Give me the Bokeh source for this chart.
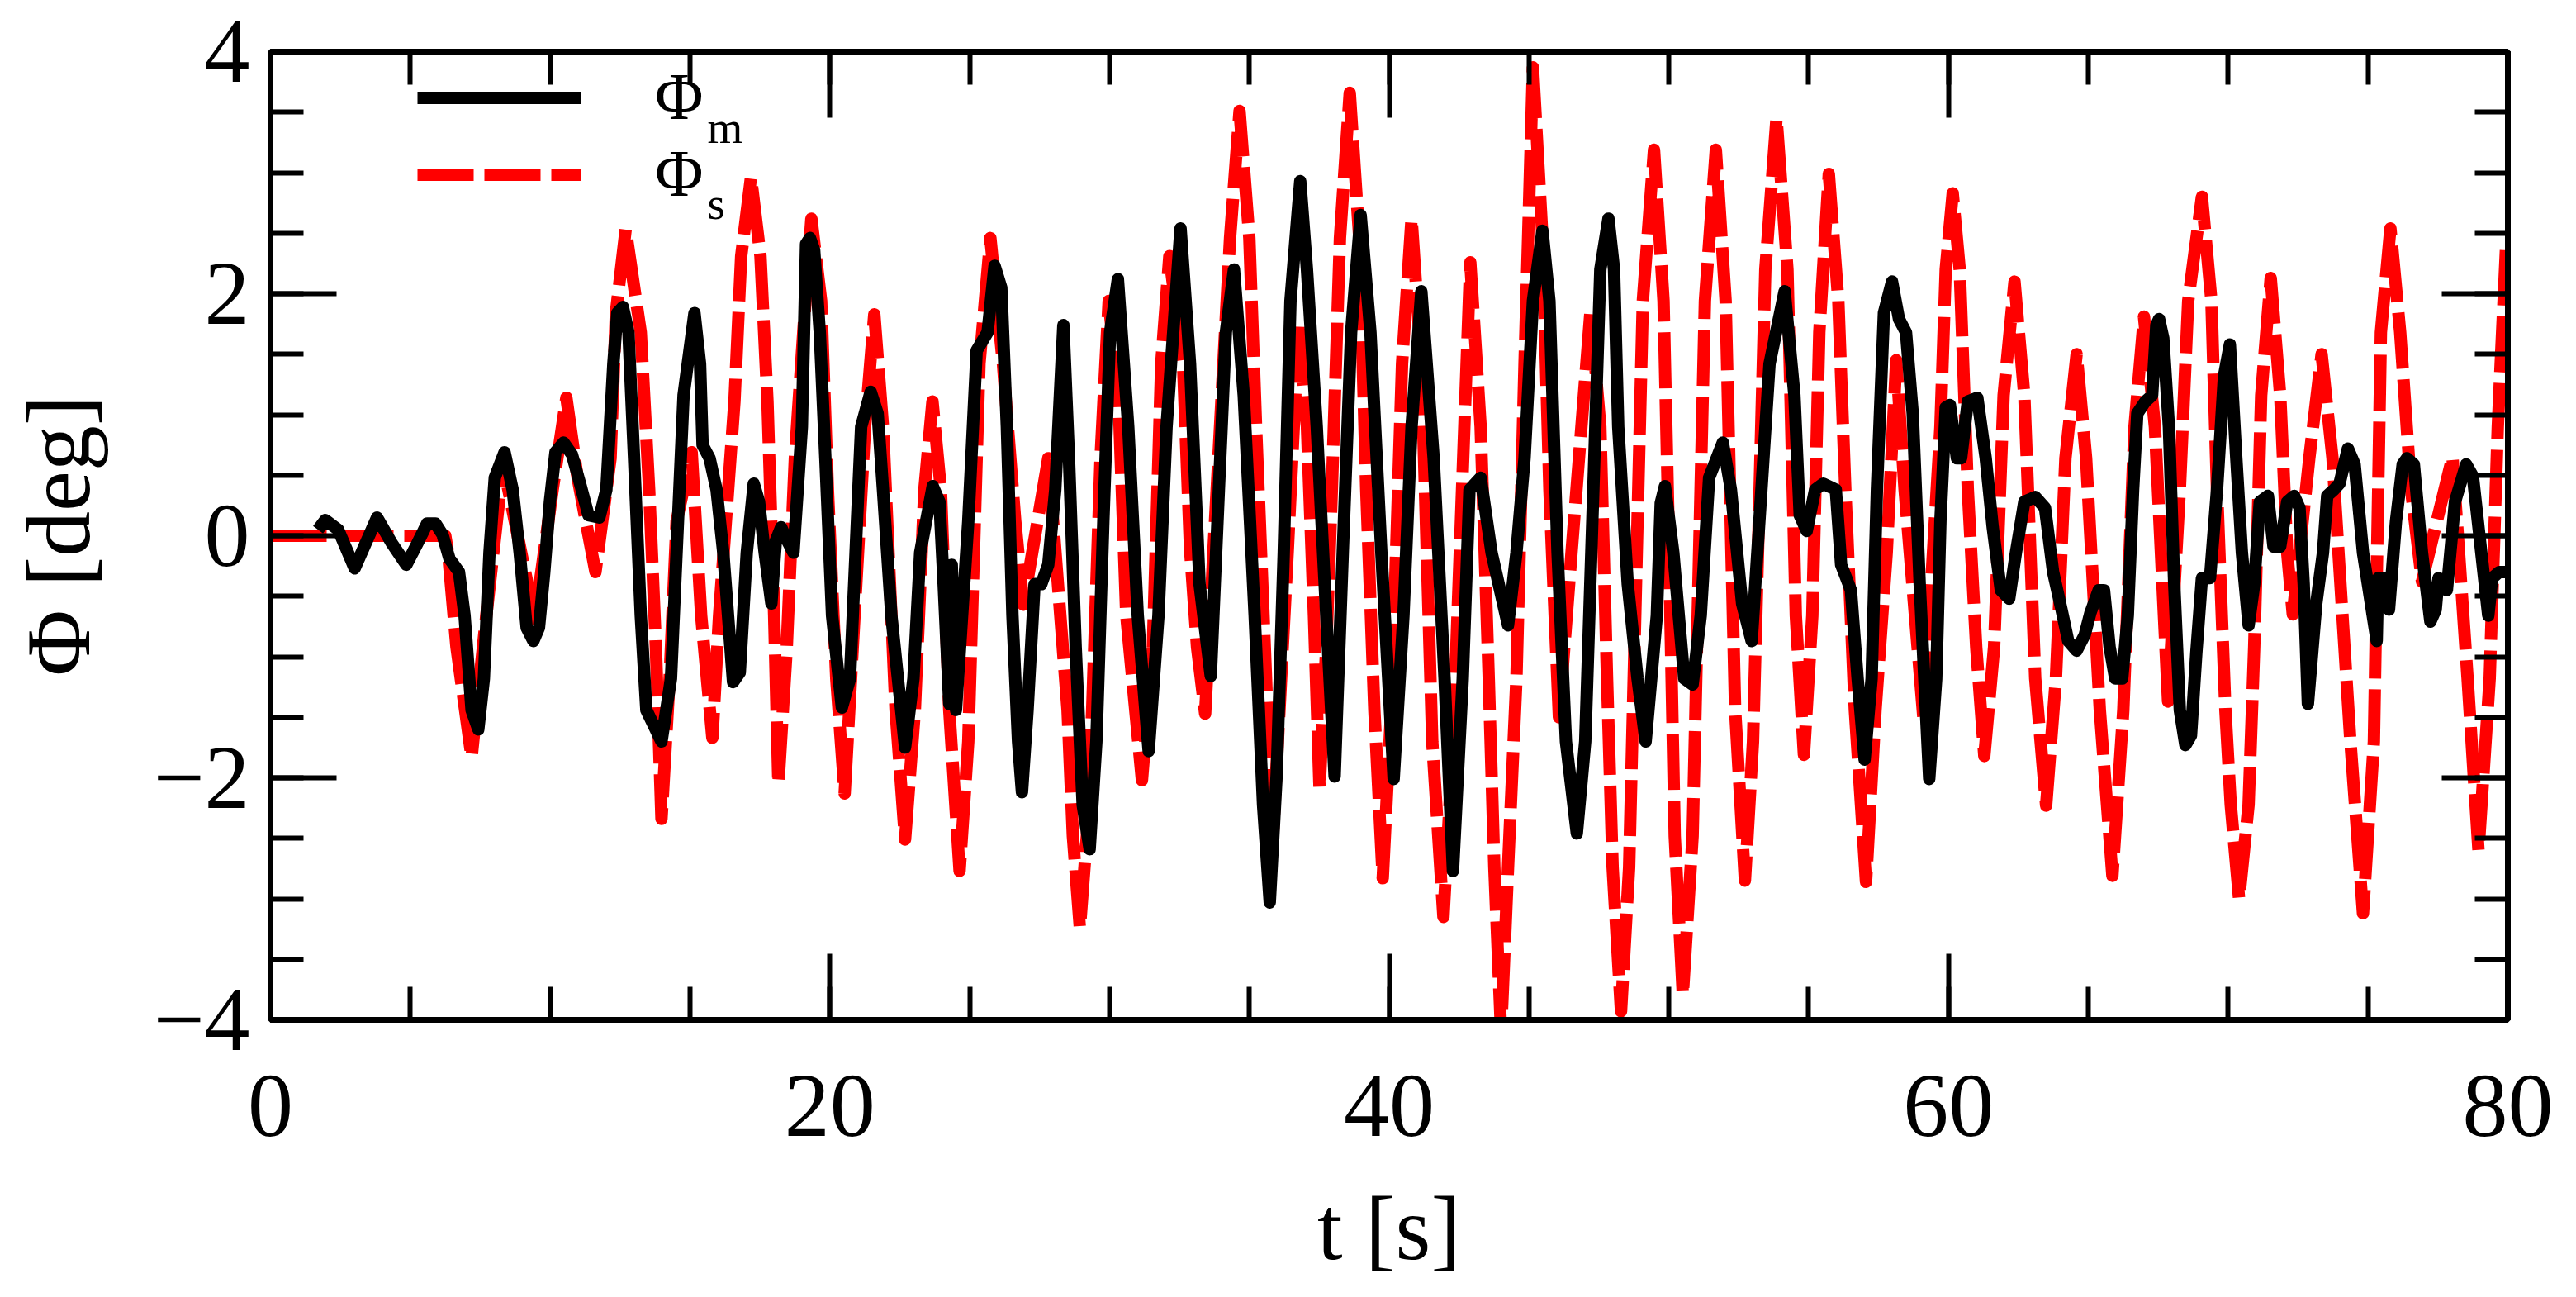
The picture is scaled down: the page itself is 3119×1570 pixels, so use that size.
from bokeh.plotting import figure
from bokeh.models import (Range1d, LinearAxis, SingleIntervalTicker, Legend, LegendItem, Label,
                          CustomLabelingPolicy)
from bokeh.embed import file_html
from bokeh.resources import INLINE

# Phi_m (measured): time [s], roll angle [deg]
t_m = [1.70, 1.96, 2.42, 3.01, 3.81, 4.33, 4.86, 5.26, 5.60, 5.90, 6.15, 6.40, 6.74, 6.94, 7.19,
       7.43, 7.63, 7.83, 8.02, 8.37, 8.66, 8.91, 9.16, 9.40, 9.60, 9.79, 9.99, 10.19, 10.48,
       10.78, 11.07, 11.37, 11.76, 12.01, 12.26, 12.40, 12.60, 12.80, 13.00, 13.24, 13.44, 13.98,
       14.32, 14.52, 14.77, 15.16, 15.36, 15.45, 15.70, 15.95, 16.19, 16.54, 16.78, 17.03, 17.28,
       17.47, 17.67, 17.91, 18.07, 18.26, 18.41, 18.70, 19.00, 19.15, 19.29, 19.44, 19.64, 19.84,
       20.08, 20.43, 20.72, 20.92, 21.12, 21.46, 21.71, 21.90, 22.20, 22.69, 22.99, 23.23, 23.68,
       23.92, 24.07, 24.27, 24.36, 24.51, 24.95, 25.25, 25.64, 25.89, 26.13, 26.33, 26.53, 26.73,
       26.87, 27.07, 27.32, 27.56, 27.81, 28.06, 28.35, 28.55, 28.79, 29.04, 29.29, 29.53, 29.78,
       30.02, 30.30, 30.67, 31.01, 31.40, 31.75, 32.04, 32.54, 32.88, 33.22, 33.62, 33.91, 34.16,
       34.45, 34.80, 35.19, 35.49, 35.73, 35.98, 36.23, 36.47, 36.82, 37.06, 37.41, 37.75, 38.05,
       38.34, 38.64, 38.98, 39.33, 39.72, 40.16, 40.51, 40.80, 41.15, 41.59, 41.98, 42.28, 42.63,
       42.87, 43.27, 43.66, 44.25, 44.55, 44.84, 45.14, 45.48, 45.73, 46.02, 46.32, 46.71, 47.01,
       47.30, 47.55, 47.84, 48.04, 48.19, 48.53, 48.88, 49.17, 49.57, 49.71, 49.86, 50.16, 50.55,
       50.85, 51.14, 51.44, 51.93, 52.22, 52.62, 52.96, 53.31, 53.60, 54.14, 54.49, 54.68, 54.93,
       55.23, 55.52, 55.97, 56.16, 56.51, 56.75, 57.00, 57.25, 57.44, 57.69, 57.98, 58.23, 58.48,
       58.72, 58.97, 59.31, 59.56, 59.71, 59.90, 60.05, 60.30, 60.45, 60.69, 61.03, 61.33, 61.58,
       61.87, 62.17, 62.41, 62.71, 63.10, 63.45, 63.74, 64.04, 64.28, 64.58, 64.87, 65.07, 65.37,
       65.56, 65.76, 65.96, 66.21, 66.41, 66.60, 66.75, 67.04, 67.28, 67.43, 67.53, 67.68, 67.88,
       68.07, 68.27, 68.47, 68.67, 68.86, 69.06, 69.35, 69.60, 69.85, 70.06, 70.29, 70.49, 70.73,
       70.93, 71.13, 71.42, 71.62, 71.86, 72.11, 72.36, 72.55, 72.70, 72.85, 73.15, 73.39, 73.54,
       73.78, 73.98, 74.28, 74.52, 74.82, 75.31, 75.36, 75.55, 75.75, 76.00, 76.24, 76.39, 76.64,
       76.93, 77.23, 77.42, 77.52, 77.82, 78.11, 78.51, 78.75, 79.05, 79.30, 79.44, 79.69, 79.90]
phi_m = [0.05, 0.13, 0.05, -0.27, 0.15, -0.06, -0.24, -0.06, 0.10, 0.10, 0.01, -0.19, -0.30, -0.66, -1.44,
         -1.60, -1.18, -0.14, 0.48, 0.69, 0.38, -0.14, -0.76, -0.87, -0.76, -0.30, 0.28, 0.69, 0.77,
         0.67, 0.43, 0.17, 0.15, 0.38, 1.42, 1.84, 1.89, 1.68, 0.64, -0.66, -1.44, -1.70,
         -1.18, -0.14, 1.16, 1.84, 1.42, 0.75, 0.64, 0.38, -0.14, -1.21, -1.13, -0.14, 0.43,
         0.28, -0.14, -0.56, -0.04, 0.07, -0.01, -0.14, 0.90, 2.41, 2.46, 2.36, 1.68, 0.64,
         -0.66, -1.42, -1.18, -0.14, 0.90, 1.19, 1.01, 0.38, -0.66, -1.75, -1.18, -0.14, 0.41,
         0.28, -0.40, -1.39, -0.24, -1.44, 0.12, 1.53, 1.68, 2.23, 2.05, 0.90, -0.66, -1.70,
         -2.12, -1.44, -0.40, -0.40, -0.24, 0.38, 1.74, 0.64, -0.92, -2.22, -2.59, -1.70, 0.12,
         1.68, 2.12, 0.90, -0.66, -1.78, -0.66, 0.90, 2.54, 1.42, -0.40, -1.16, 0.38, 1.68,
         2.20, 1.16, -0.66, -2.22, -3.03, -1.96, -0.14, 1.94, 2.93, 2.20, 0.90, -0.66, -1.99,
         -0.14, 1.68, 2.65, 1.68, -0.14, -2.01, -0.66, 0.90, 2.02, 0.64, -1.18, -2.77, -1.18,
         0.38, 0.48, -0.14, -0.74, -0.14, 0.64, 1.94, 2.52, 1.94, -0.14, -1.70, -2.46, -1.70,
         0.38, 2.20, 2.62, 2.20, 0.90, -0.40, -1.18, -1.70, -0.66, 0.27, 0.41, -0.14, -1.18,
         -1.23, -0.66, 0.48, 0.77, 0.38, -0.56, -0.87, 0.38, 1.42, 2.02, 1.16, 0.17, 0.04,
         0.38, 0.43, 0.38, -0.24, -0.45, -1.18, -1.85, -1.18, 0.38, 1.84, 2.10, 1.79, 1.68,
         1.01, -0.40, -2.01, -1.18, 0.12, 1.06, 1.08, 0.64, 0.64, 1.11, 1.14, 0.64, 0.07,
         -0.45, -0.52, -0.14, 0.28, 0.32, 0.23, -0.30, -0.61, -0.87, -0.95, -0.82, -0.64, -0.45,
         -0.45, -0.92, -1.18, -1.18, -0.66, 0.38, 1.01, 1.11, 1.16, 1.74, 1.79, 1.63, 0.90,
         -0.40, -1.44, -1.73, -1.65, -0.97, -0.35, -0.35, 0.38, 1.32, 1.58, 0.64, -0.14, -0.74,
         -0.40, 0.28, 0.33, -0.09, -0.09, 0.28, 0.33, 0.23, -0.40, -1.39, -0.56, -0.14, 0.33,
         0.38, 0.43, 0.72, 0.59, -0.14, -0.87, -0.35, -0.35, -0.61, 0.12, 0.59, 0.64, 0.59,
         -0.14, -0.71, -0.61, -0.35, -0.45, 0.28, 0.59, 0.49, -0.14, -0.66, -0.35, -0.30, -0.30]

# Phi_s (simulated)
t_s = [0.00, 6.25, 6.35, 6.65, 7.19, 7.65, 8.32, 9.45, 10.09, 10.58, 10.98, 11.62, 12.16, 12.35,
       12.70, 13.24, 13.54, 13.78, 13.98, 14.27, 14.52, 15.06, 15.40, 15.80, 16.04, 16.59, 16.83,
       17.18, 17.52, 17.77, 18.01, 18.16, 18.46, 18.75, 19.05, 19.34, 19.69, 19.93, 20.23, 20.53,
       20.82, 21.26, 21.59, 21.90, 22.35, 22.69, 23.04, 23.38, 23.67, 23.97, 24.27, 24.64, 24.95,
       25.35, 25.74, 26.19, 26.63, 26.92, 27.81, 28.50, 28.69, 28.94, 29.19, 29.38, 29.68, 29.97,
       30.32, 30.60, 31.16, 31.55, 31.85, 32.14, 32.63, 32.88, 33.13, 33.42, 33.72, 34.31, 34.65,
       35.00, 35.24, 35.83, 36.37, 36.77, 37.06, 37.31, 37.51, 37.75, 37.95, 38.24, 38.59, 38.93,
       39.18, 39.47, 39.77, 40.07, 40.46, 40.80, 41.15, 41.54, 41.94, 42.28, 42.90, 43.27, 43.56,
       43.76, 44.00, 44.25, 44.55, 44.84, 45.14, 45.48, 45.73, 46.07, 46.52, 47.20, 47.55, 47.79,
       47.99, 48.29, 48.58, 49.07, 49.47, 49.81, 50.01, 50.21, 50.50, 50.85, 51.29, 51.68, 52.03,
       52.37, 52.72, 53.01, 53.45, 53.85, 54.24, 54.54, 54.83, 55.13, 55.38, 55.72, 56.06, 56.31,
       56.65, 57.05, 57.39, 57.79, 58.13, 58.43, 59.10, 59.71, 59.90, 60.15, 60.40, 60.69, 60.99,
       61.28, 61.63, 61.97, 62.36, 62.71, 63.10, 63.49, 63.84, 64.18, 64.58, 64.92, 65.41, 65.86,
       66.25, 66.65, 66.99, 67.38, 67.85, 68.27, 68.57, 69.06, 69.40, 69.60, 69.90, 70.09, 70.39,
       70.73, 70.93, 71.18, 71.52, 71.86, 72.11, 72.31, 72.90, 73.34, 73.73, 74.37, 74.82, 75.21,
       75.46, 75.80, 76.15, 76.54, 76.93, 78.02, 78.56, 78.95, 79.35, 79.64, 79.93]
phi_s = [0.00, 0.00, -0.14, -0.92, -1.83, -0.80, 0.59, -0.69, 0.38, 1.14, 0.48, -0.30, 0.64, 1.84,
         2.53, 1.68, 0.38, -0.92, -2.34, -1.18, 0.12, 0.69, -0.66, -1.67, -0.66, 1.11, 2.31,
         2.96, 2.31, 1.11, -0.66, -2.05, -0.92, 0.64, 1.68, 2.62, 1.94, 0.38, -1.18, -2.13,
         -0.92, 0.90, 1.83, 0.90, -1.44, -2.51, -1.44, 0.38, 1.11, 0.38, -1.44, -2.77, -1.70,
         1.42, 2.46, 1.42, 0.12, -0.57, 0.64, -1.44, -2.48, -3.24, -2.48, -1.44, 0.64, 1.94,
         1.16, -0.66, -2.02, -0.92, 1.42, 2.31, 1.42, -0.11, -0.92, -1.47, -0.11, 2.46, 3.51,
         2.46, 0.90, -2.54, -0.14, 1.76, 0.90, -0.66, -2.09, -0.92, 0.38, 2.46, 3.66, 2.46,
         0.38, -1.44, -2.83, -1.44, 1.42, 2.62, 1.42, -1.70, -3.15, -1.70, 2.26, 0.90, -1.18,
         -2.74, -4.10, -2.74, -1.18, 1.42, 3.87, 2.46, 0.38, -1.50, -0.14, 1.86, 0.90, -1.18,
         -2.74, -3.93, -2.74, 1.94, 3.19, 1.94, -0.14, -2.48, -3.79, -2.48, 1.94, 3.19, 1.94,
         -1.44, -2.85, -1.70, 2.20, 3.45, 2.20, -0.66, -1.81, -0.66, 1.68, 2.99, 1.94, 0.38,
         -1.44, -2.86, -1.44, -0.14, 1.45, 0.38, -1.50, 0.90, 2.20, 2.83, 2.20, 0.38, -0.92,
         -1.82, -0.92, 1.16, 2.10, 1.16, -1.18, -2.23, -1.18, 0.64, 1.50, 0.64, -1.44, -2.81,
         -1.44, 0.90, 1.81, 0.90, -1.37, 0.38, 1.94, 2.80, 1.94, 0.38, -1.44, -2.22, -3.00,
         -2.22, -0.92, 1.16, 2.13, 1.16, -0.14, -0.65, 0.64, 1.50, 0.64, -1.70, -3.12, -1.70,
         1.68, 2.54, 1.68, 0.38, -0.38, 0.65, -1.18, -2.60, -1.18, 0.90, 2.36]

x_ticks_interval = 20
y_ticks_interval = 2
y_label_overrides = {-4: "\u22124", -2: "\u22122"}
legend_labels = ["\u03a6", "\u03a6"]
legend_subs = ["m", "s"]

FONT = "Liberation Serif"

p = figure(width=3100, height=1550, x_range=Range1d(0, 80), y_range=Range1d(-4, 4),
           output_backend="svg", toolbar_location=None, x_axis_type=None, y_axis_type=None)
p.min_border_left = 327
p.min_border_top = 62
p.min_border_right = 64
p.min_border_bottom = 311
p.outline_line_color = "black"
p.outline_line_width = 7
p.background_fill_color = "white"
p.border_fill_color = "white"


def style(ax, labels):
    ax.axis_line_width = 7
    ax.axis_line_color = "black"
    ax.major_tick_in = 80
    ax.major_tick_out = 0
    ax.minor_tick_in = 40
    ax.minor_tick_out = 0
    ax.major_tick_line_width = 6
    ax.minor_tick_line_width = 6
    ax.major_tick_line_color = "black"
    ax.minor_tick_line_color = "black"
    ax.major_label_text_font = FONT
    ax.major_label_text_color = "black"
    ax.axis_label_text_font = FONT
    ax.axis_label_text_font_style = "normal"
    ax.axis_label_text_color = "black"
    ax.axis_label_text_font_size = "110px"
    if labels:
        ax.major_label_text_font_size = "110px"
    else:
        ax.major_label_text_font_size = "0px"
        ax.major_label_standoff = 0
        ax.major_label_policy = CustomLabelingPolicy(code="for (const i of indices) indices.unset(i)")


xb = LinearAxis(ticker=SingleIntervalTicker(interval=x_ticks_interval, num_minor_ticks=4), axis_label="t [s]")
style(xb, True)
xb.major_label_standoff = 67
xb.axis_label_standoff = 48
p.add_layout(xb, "below")

xa = LinearAxis(ticker=SingleIntervalTicker(interval=x_ticks_interval, num_minor_ticks=4))
style(xa, False)
p.add_layout(xa, "above")

yl = LinearAxis(ticker=SingleIntervalTicker(interval=y_ticks_interval, num_minor_ticks=4), axis_label="\u03a6 [deg]")
style(yl, True)
yl.major_label_standoff = 25
yl.axis_label_standoff = 50
yl.major_label_overrides = y_label_overrides
p.add_layout(yl, "left")

yr = LinearAxis(ticker=SingleIntervalTicker(interval=y_ticks_interval, num_minor_ticks=4))
style(yr, False)
p.add_layout(yr, "right")

r_s = p.line(t_s, phi_s, line_color="red", line_width=15, line_dash="68 13", line_join="round")
r_m = p.line(t_m, phi_m, line_color="black", line_width=15, line_join="round")

legend = Legend(items=[LegendItem(label=legend_labels[0], renderers=[r_m]),
                       LegendItem(label=legend_labels[1], renderers=[r_s])],
                location=(178, 978))
legend.border_line_color = None
legend.background_fill_alpha = 0
legend.padding = 0
legend.margin = 0
legend.spacing = 2
legend.glyph_width = 198
legend.glyph_height = 90
legend.label_height = 90
legend.label_standoff = 90
legend.label_text_font = FONT
legend.label_text_font_size = "80px"
legend.label_text_color = "black"
p.add_layout(legend)

for sub, y in zip(legend_subs, [1080, 988]):
    p.add_layout(Label(x=529, y=y, x_units="screen", y_units="screen", text=sub,
                       text_font=FONT, text_font_size="55px", text_baseline="alphabetic",
                       text_color="black"))

open("out.html", "w").write(file_html(p, INLINE))
